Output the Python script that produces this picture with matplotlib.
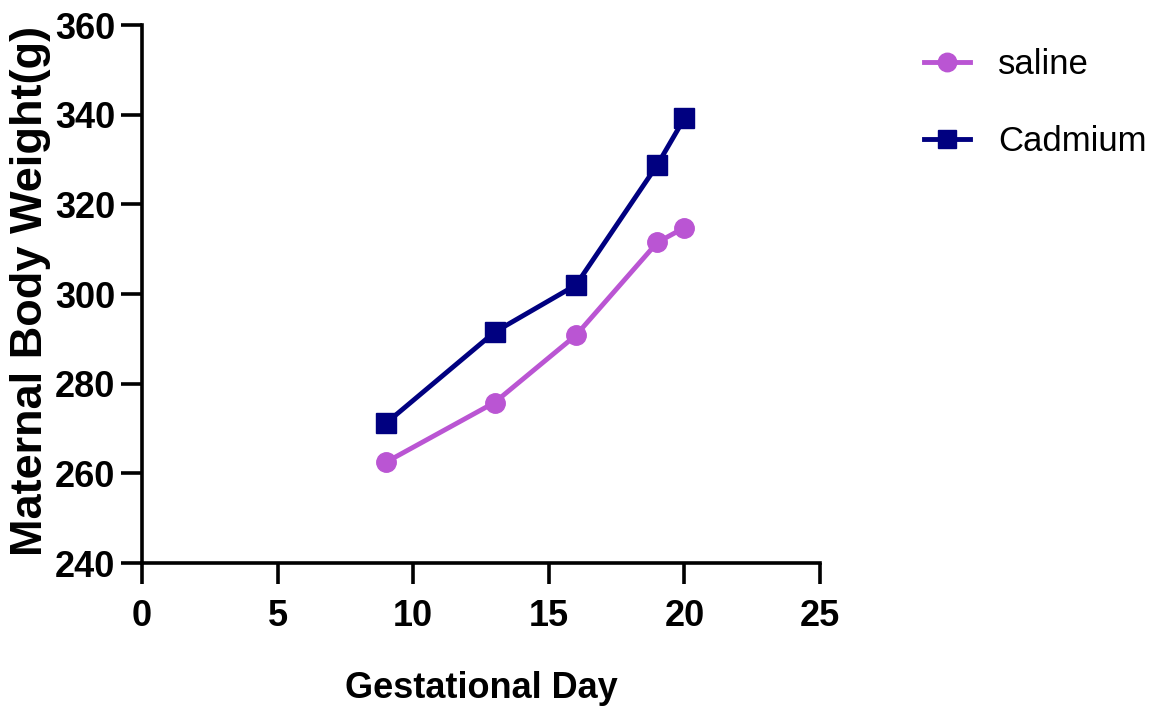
import matplotlib.pyplot as plt

# maternal body weight over gestation
days = [9, 13, 16, 19, 20]
saline = [262.5, 275.8, 290.8, 311.5, 314.8]
cadmium = [271.2, 291.5, 302.0, 328.8, 339.2]

x_ticks = [0, 5, 10, 15, 20, 25]
y_ticks = [240, 260, 280, 300, 320, 340, 360]

plt.rcParams['font.family'] = ['Liberation Sans', 'DejaVu Sans']

fig = plt.figure(figsize=(11.62, 7.09), dpi=100)
ax = fig.add_axes([0.1222, 0.2059, 0.5835, 0.7588])

ax.plot(days, saline, color='#BA55D3', lw=3.5, marker='o', ms=14,
        label='saline', clip_on=False)
ax.plot(days, cadmium, color='#000080', lw=3.5, marker='s', ms=14,
        label='Cadmium', clip_on=False)

ax.set_xlim(0, 25)
ax.set_ylim(240, 360)
ax.set_xticks(x_ticks)
ax.set_yticks(y_ticks)
for side in ('top', 'right'):
    ax.spines[side].set_visible(False)
for side in ('left', 'bottom'):
    ax.spines[side].set_linewidth(2.6)
ax.tick_params(width=2.6, length=15, labelsize=26)
ax.tick_params(axis='x', pad=11)
ax.tick_params(axis='y', pad=4)
for lab in ax.get_xticklabels() + ax.get_yticklabels():
    lab.set_fontweight('bold')

ax.set_ylabel('Maternal Body Weight(g)', fontsize=32.5, fontweight='bold')
ax.yaxis.set_label_coords(-0.134, 0.5056)
ax.set_xlabel('Gestational Day', fontsize=26, fontweight='bold', labelpad=26.5)

fig.legend(loc='upper left', bbox_to_anchor=(0.7685, 0.976), frameon=False,
           fontsize=25, handlelength=1.33, handletextpad=0.8, labelspacing=1.25,
           markerscale=0.95)

fig.savefig('out.png', dpi=100)
